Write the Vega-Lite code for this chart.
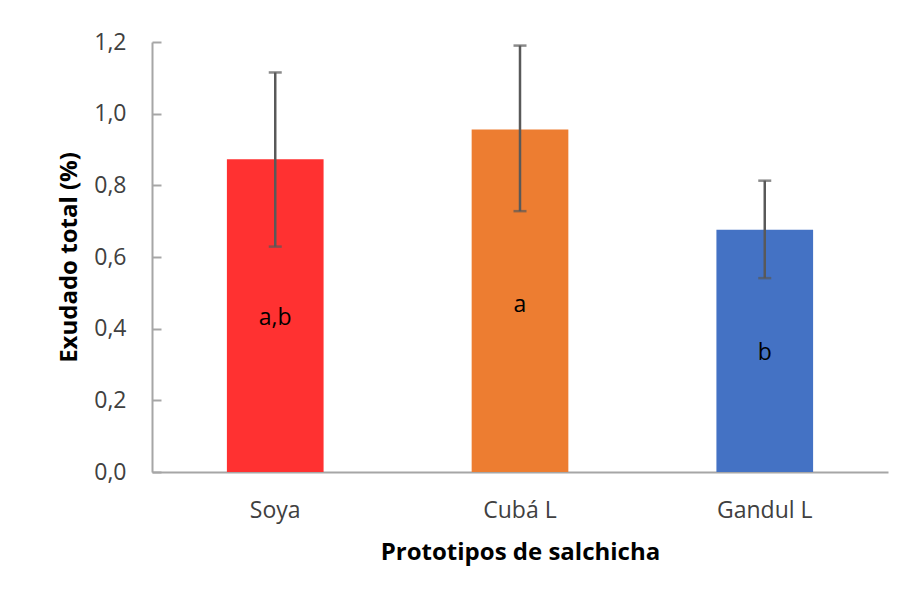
{
  "$schema": "https://vega.github.io/schema/vega-lite/v6.json",
  "autosize": {"type": "none"},
  "width": 736,
  "height": 430,
  "padding": {"left": 152, "top": 42, "right": 18, "bottom": 126},
  "background": "white",
  "config": {
    "view": {"stroke": null},
    "font": "Open Sans",
    "axis": {"grid": false, "domainColor": "#a6a6a6", "domainWidth": 2, "labelColor": "#404040", "titleColor": "#000000", "labelFont": "Open Sans", "titleFont": "Open Sans"}
  },
  "data": {
    "values": [
      {"prototipo": "Soya", "exudado": 0.873, "lo": 0.629, "hi": 1.115, "letra": "a,b", "pos": 0.43, "color": "#FF3131"},
      {"prototipo": "Cubá L", "exudado": 0.956, "lo": 0.728, "hi": 1.19, "letra": "a", "pos": 0.466, "color": "#ED7D31"},
      {"prototipo": "Gandul L", "exudado": 0.676, "lo": 0.541, "hi": 0.813, "letra": "b", "pos": 0.332, "color": "#4472C4"}
    ]
  },
  "encoding": {
    "x": {
      "field": "prototipo",
      "type": "nominal",
      "sort": null,
      "scale": {"paddingInner": 0.605, "paddingOuter": 0.306},
      "axis": {"title": "Prototipos de salchicha", "labelAngle": 0, "ticks": false, "labelFontSize": 23, "labelPadding": 27, "titleFontSize": 24, "titleFontWeight": "bold", "titlePadding": 18}
    }
  },
  "layer": [
    {
      "mark": {"type": "bar"},
      "encoding": {
        "y": {
          "field": "exudado",
          "type": "quantitative",
          "scale": {"domain": [0, 1.2], "nice": false},
          "axis": {"title": "Exudado total (%)", "values": [0, 0.2, 0.4, 0.6, 0.8, 1.0, 1.2], "labelExpr": "replace(format(datum.value, '.1f'), '.', ',')", "tickSize": -9, "tickWidth": 2, "tickColor": "#a6a6a6", "labelFontSize": 23, "labelPadding": 35, "titleFontSize": 24, "titleFontWeight": "bold", "titlePadding": 12}
        },
        "color": {"field": "color", "type": "nominal", "scale": null, "legend": null}
      }
    },
    {
      "mark": {"type": "rule", "color": "#595959", "strokeWidth": 2.5},
      "encoding": {
        "y": {"field": "lo", "type": "quantitative"},
        "y2": {"field": "hi"}
      }
    },
    {
      "mark": {"type": "tick", "color": "#595959", "thickness": 2.5, "size": 13, "orient": "horizontal"},
      "encoding": {"y": {"field": "lo", "type": "quantitative"}}
    },
    {
      "mark": {"type": "tick", "color": "#595959", "thickness": 2.5, "size": 13, "orient": "horizontal"},
      "encoding": {"y": {"field": "hi", "type": "quantitative"}}
    },
    {
      "mark": {"type": "text", "fontSize": 23, "color": "#000000", "baseline": "middle", "align": "center"},
      "encoding": {
        "y": {"field": "pos", "type": "quantitative"},
        "text": {"field": "letra"}
      }
    }
  ]
}
